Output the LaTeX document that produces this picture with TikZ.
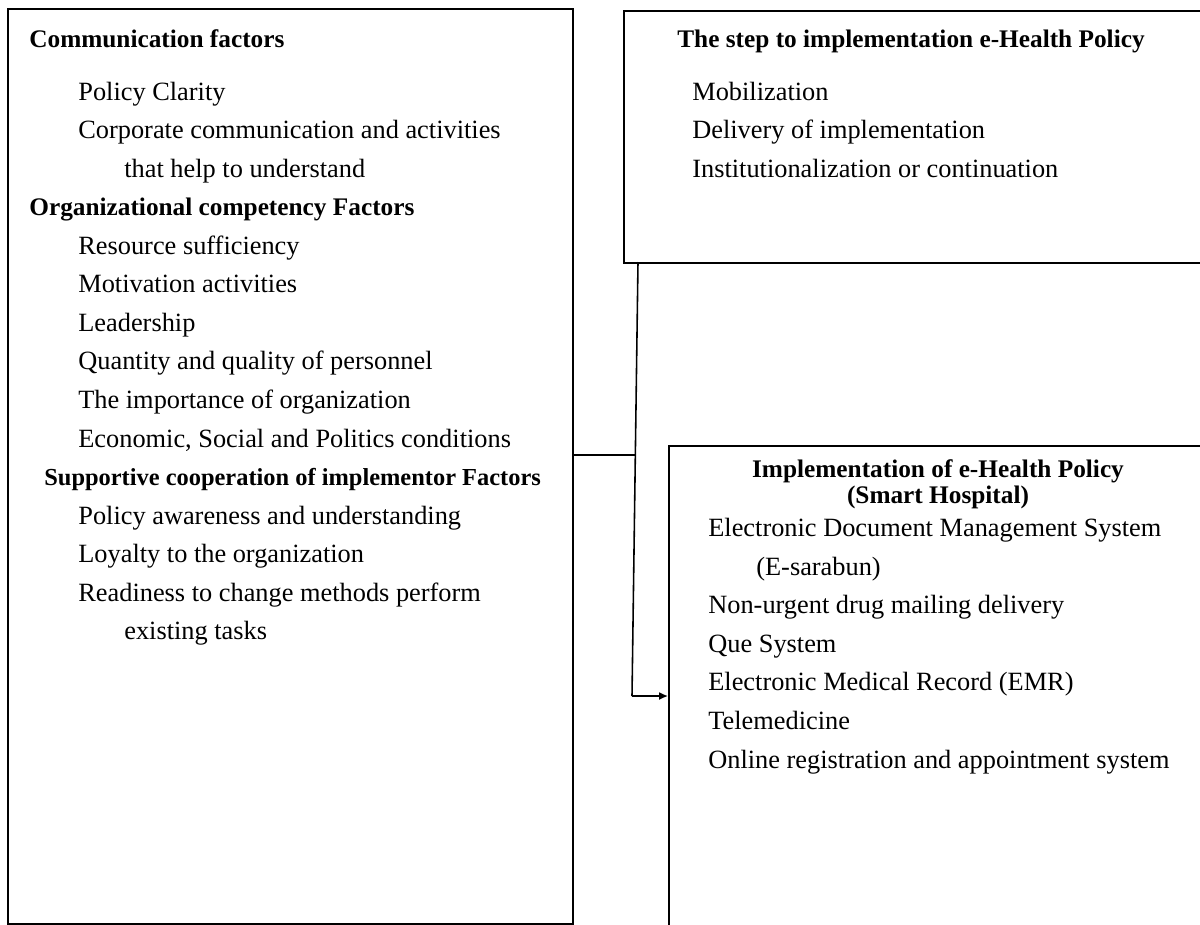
\documentclass[tikz,border=0pt]{standalone}
\usepackage{fontspec}
\setmainfont{Liberation Serif}
\usetikzlibrary{arrows.meta}

\tikzset{
  frame/.style={draw=black, line width=1.1pt, fill=none, inner sep=0pt, anchor=north west},
  txt/.style={anchor=base west, inner sep=0pt, font=\fontsize{15}{18}\selectfont},
  head/.style={anchor=base west, inner sep=0pt, font=\fontsize{14.4}{17}\selectfont\bfseries},
  headc/.style={anchor=base, inner sep=0pt, font=\fontsize{14.4}{17}\selectfont\bfseries},
  link/.style={draw=black, line width=0.9pt},
}

\begin{document}
\begin{tikzpicture}[x=0.02cm, y=-0.02cm]
  \clip (0,0) rectangle (1200,924);
  \fill[white] (0,0) rectangle (1200,924);

  % boxes
  \node[frame, minimum width=11.3cm, minimum height=18.3cm] (factors) at (7,8) {};
  \node[frame, minimum width=11.9cm, minimum height=5.04cm] (steps) at (623,10) {};
  \node[frame, minimum width=11.0cm, minimum height=10cm] (impl) at (668,445) {};

  % left box text
  \node[head] (f1) at (29,47) {Communication factors};
  \node[txt] (f2) at (78,100) {Policy Clarity};
  \node[txt] (f3) at (78,138) {Corporate communication and activities};
  \node[txt] (f4) at (124,177) {that help to understand};
  \node[head] (f5) at (29,215) {Organizational competency Factors};
  \node[txt] (f6) at (78,254) {Resource sufficiency};
  \node[txt] (f7) at (78,292) {Motivation activities};
  \node[txt] (f8) at (78,331) {Leadership};
  \node[txt] (f9) at (78,369) {Quantity and quality of personnel};
  \node[txt] (f10) at (78,408) {The importance of organization};
  \node[txt] (f11) at (78,447) {Economic, Social and Politics conditions};
  \node[head, font=\fontsize{13.9}{17}\selectfont\bfseries] (f12) at (44,485) {Supportive cooperation of implementor Factors};
  \node[txt] (f13) at (78,524) {Policy awareness and understanding};
  \node[txt] (f14) at (78,562) {Loyalty to the organization};
  \node[txt] (f15) at (78,601) {Readiness to change methods perform};
  \node[txt] (f16) at (124,639) {existing tasks};

  % top right box text
  \node[head] (s1) at (677,47) {The step to implementation e-Health Policy};
  \node[txt] (s2) at (692,100) {Mobilization};
  \node[txt] (s3) at (692,138) {Delivery of implementation};
  \node[txt] (s4) at (692,177) {Institutionalization or continuation};

  % bottom right box text
  \node[headc] (i1) at (938,477) {Implementation of e-Health Policy};
  \node[headc] (i2) at (938,503) {(Smart Hospital)};
  \node[txt] (i3) at (708,536) {Electronic Document Management System};
  \node[txt] (i4) at (756,575) {(E-sarabun)};
  \node[txt] (i5) at (708,613) {Non-urgent drug mailing delivery};
  \node[txt] (i6) at (708,652) {Que System};
  \node[txt] (i7) at (708,690) {Electronic Medical Record (EMR)};
  \node[txt] (i8) at (708,729) {Telemedicine};
  \node[txt] (i9) at (708,768) {Online registration and appointment system};

  % connectors: branch from the factors box, trunk below the steps box,
  % arrow into the implementation box
  \coordinate (j0) at (638,262);
  \coordinate (j1) at (636,455);
  \coordinate (j2) at (632,696);
  \draw[link] (j1 -| factors.east) -- (j1);
  \draw[link] (j0) -- (j2);
  \draw[link, -{Latex[length=5pt, width=4.5pt]}] (j2) -- (j2 -| impl.west);
\end{tikzpicture}
\end{document}
